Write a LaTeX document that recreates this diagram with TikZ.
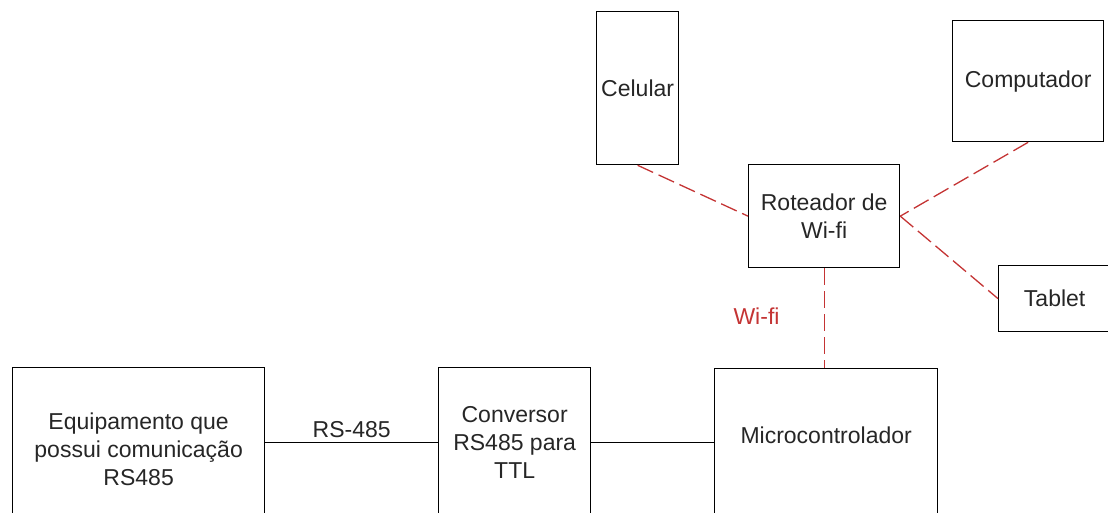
\documentclass[tikz,border=0pt]{standalone}
\usepackage{fontspec}
\setmainfont{Liberation Sans}
\definecolor{wred}{RGB}{196,52,52}
\definecolor{ink}{RGB}{38,38,38}
\begin{document}
\begin{tikzpicture}[x=1pt,y=-1pt,
  box/.style={draw=black, line width=1.3pt, rectangle, inner sep=0pt, anchor=north west,
    font=\fontsize{23}{28}\selectfont, align=center, text=ink},
  txt/.style={font=\fontsize{23}{28}\selectfont, align=center, text=ink, inner sep=0pt},
  wire/.style={draw=black, line width=1.3pt},
  wifi/.style={draw=wred, line width=1.3pt, dash pattern=on 17pt off 6pt},
  lbl/.style={font=\fontsize{23}{28}\selectfont, inner sep=2pt}]
\useasboundingbox (0,0) rectangle (1108,513);
\clip (0,0) rectangle (1108,513);
% top devices
\node[box, minimum width=82pt, minimum height=153pt] (cel) at (596,11) {Celular};
\node[box, minimum width=151pt, minimum height=121pt] (comp) at (952,20) {Computador};
\node[box, minimum width=151pt, minimum height=103pt] (rot) at (748,164) {Roteador de\\Wi-fi};
\node[box, minimum width=112pt, minimum height=66pt] (tab) at (998,265) {Tablet};
% bottom chain
\node[box, minimum width=252pt, minimum height=150pt] (equip) at (12,367) {};
\node[txt] (equiptxt) at ([yshift=-7pt]equip.center) {Equipamento que\\possui comunicação\\RS485};
\node[box, minimum width=152pt, minimum height=150pt] (conv) at (438,367) {Conversor\\RS485 para\\TTL};
\node[box, minimum width=223pt, minimum height=148pt] (micro) at (714,368) {};
\node[txt] (microtxt) at ([yshift=7pt]micro.center) {Microcontrolador};
% connectors
\draw[wire] (equip.east) -- node[lbl, above, text=ink, inner sep=4pt] {RS-485} (conv.west);
\draw[wire] (conv.east) -- (micro.west);
\draw[wifi] (cel.south) -- (rot.west);
\draw[wifi] (comp.south) -- (rot.east);
\draw[wifi] (rot.east) -- (tab.west);
\draw[wifi] (rot.south) -- node[lbl, pos=0.48, left=42pt, text=wred] {Wi-fi} (rot.south |- micro.north);
\end{tikzpicture}
\end{document}
